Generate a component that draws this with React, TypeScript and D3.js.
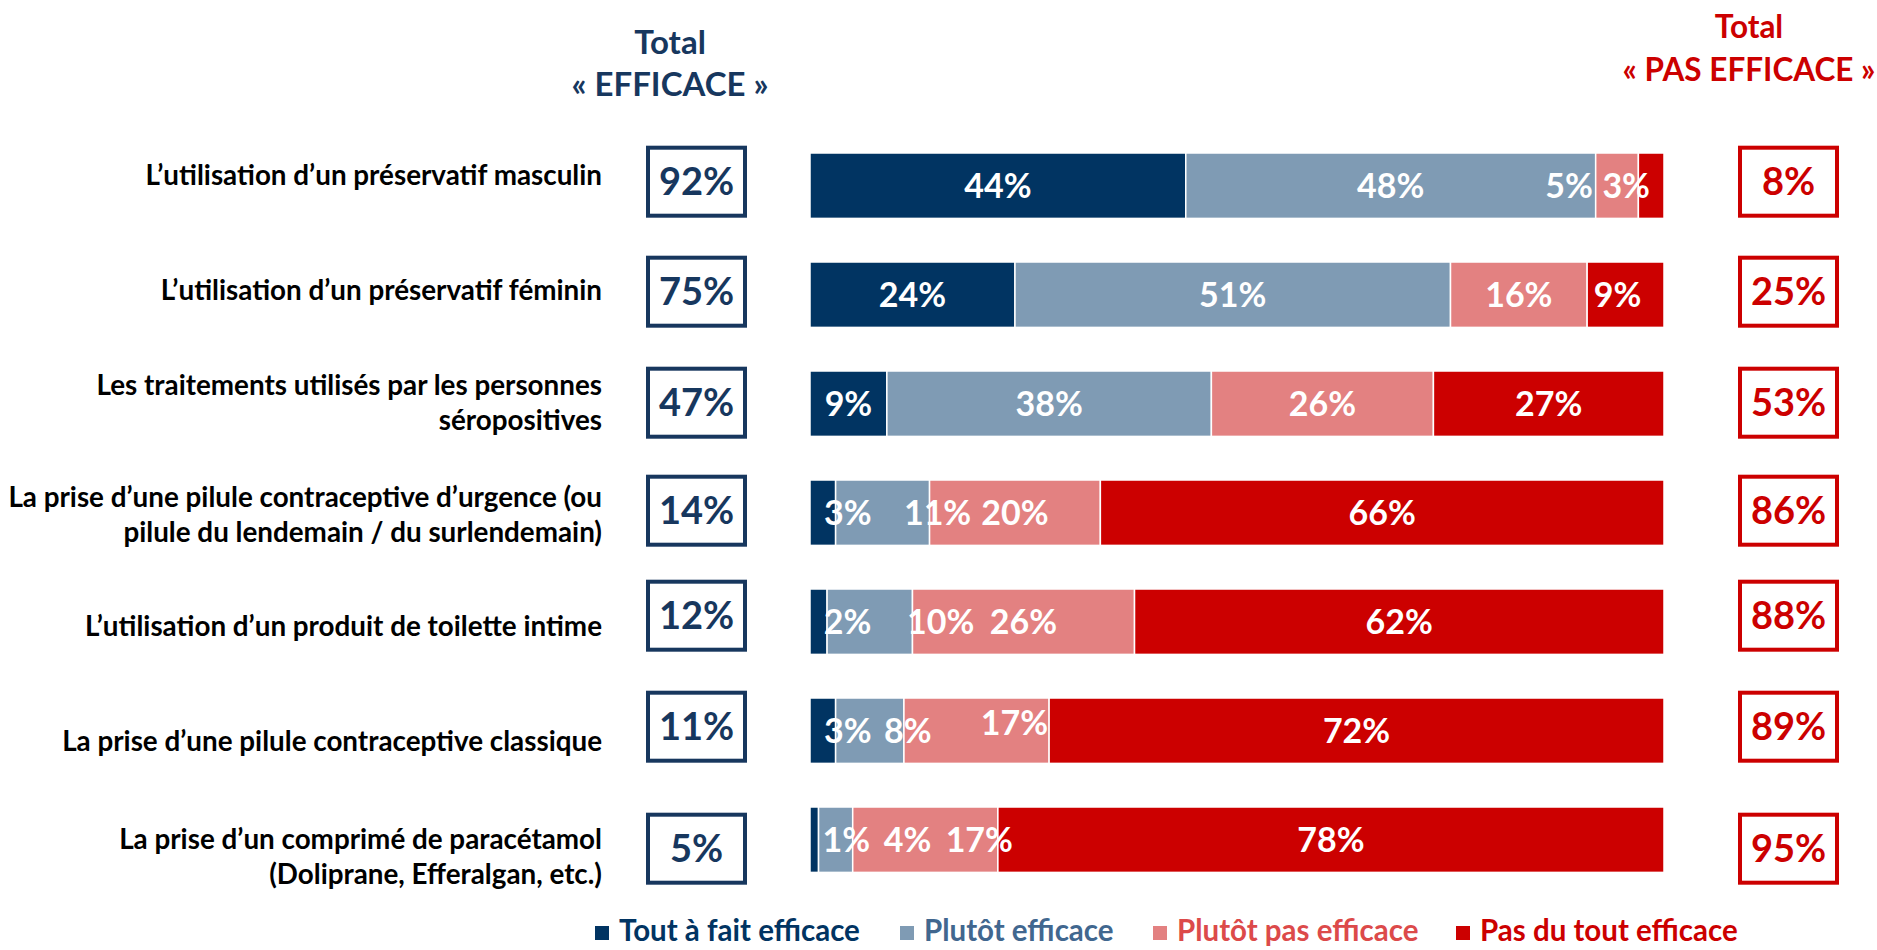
import React from "react";
import * as d3 from "d3";

// ---------- DATA ----------
const categories: string[][] = [
  ["L’utilisation d’un préservatif masculin"],
  ["L’utilisation d’un préservatif féminin"],
  ["Les traitements utilisés par les personnes", "séropositives"],
  ["La prise d’une pilule contraceptive d’urgence (ou", "pilule du lendemain / du surlendemain)"],
  ["L’utilisation d’un produit de toilette intime"],
  ["La prise d’une pilule contraceptive classique"],
  ["La prise d’un comprimé de paracétamol", "(Doliprane, Efferalgan, etc.)"],
];
const seriesNames = ["Tout à fait efficace", "Plutôt efficace", "Plutôt pas efficace", "Pas du tout efficace"];
const toutAFait = [44, 24, 9, 3, 2, 3, 1];
const plutot = [48, 51, 38, 11, 10, 8, 4];
const plutotPas = [5, 16, 26, 20, 26, 17, 17];
const pasDuTout = [3, 9, 27, 66, 62, 72, 78];
const totalEfficace = [92, 75, 47, 14, 12, 11, 5];
const totalPasEfficace = [8, 25, 53, 86, 88, 89, 95];
const headerLeft = ["Total", "« EFFICACE »"];
const headerRight = ["Total", "« PAS EFFICACE »"];

// ---------- STYLE / LAYOUT ----------
const FONT = "Lato, 'Open Sans', sans-serif";
const barColors = ["#013462", "#7f9bb4", "#e38181", "#cc0000"];
const legendTextColors = ["#013462", "#41678f", "#dc4a4a", "#cc0000"];
const NAVY = "#17375e";
const RED = "#cc0000";
// label nudges (px) for the segment labels, [row][segment] -> [dx, dy]
const segNudge: [number, number][][] = [
  [[0, 0], [0, 0], [-48, 0], [-25, 0]],
  [[0, 0], [0, 0], [0, 0], [-8, 0]],
  [[0, 0], [0, 0], [0, 0], [0, 0]],
  [[25, 0], [55, 0], [0, 0], [0, 0]],
  [[29, 0], [71, 0], [0, 0], [0, 0]],
  [[25, 0], [38, 0], [38, -8], [0, 0]],
  [[32, 0], [72, 0], [54, 0], [0, 0]],
];
const labelDy = [-10, -4, -1, 2, 5, 11, 17];
const boxDy = [-4, -3, -1, -2, -6, -4, 9];

export default function App() {
  const W = 1877, H = 950;
  const rows = categories.map((c, i) => ({
    key: String(i),
    [seriesNames[0]]: toutAFait[i],
    [seriesNames[1]]: plutot[i],
    [seriesNames[2]]: plutotPas[i],
    [seriesNames[3]]: pasDuTout[i],
  }));
  const stacked = d3.stack<any>().keys(seriesNames)(rows);

  const x = d3.scaleLinear().domain([0, 100]).range([810, 1664]);
  const y = d3.scaleBand<string>()
    .domain(rows.map((r) => r.key))
    .range([153, 153 + 6.6 * 109])
    .paddingInner(0.4)
    .paddingOuter(0);
  const bw = y.bandwidth();

  const lineH = 35;

  return (
    <svg width={W} height={H} style={{ position: "absolute", left: 0, top: 0, background: "#fff" }} fontFamily={FONT} fontWeight="bold">
      {/* headers */}
      {headerLeft.map((t, i) => (
        <text key={"hl" + i} x={670} y={54 + i * 42} textAnchor="middle" fontSize={33} fill={NAVY}>{t}</text>
      ))}
      {headerRight.map((t, i) => (
        <text key={"hr" + i} x={1749} y={38 + i * 43} textAnchor="middle" fontSize={31.5} fill={RED}>{t}</text>
      ))}

      {/* bars */}
      {stacked.map((s, si) => (
        <g key={s.key}>
          {s.map((d, ri) => (
            <rect key={ri} x={x(d[0])} y={y(String(ri))} width={x(d[1]) - x(d[0])} height={bw}
              fill={barColors[si]} stroke="#fff" strokeWidth={1.5} />
          ))}
        </g>
      ))}
      {/* segment labels */}
      {stacked.map((s, si) => (
        <g key={"l" + s.key}>
          {s.map((d, ri) => {
            const v = d[1] - d[0];
            const [dx, dy] = segNudge[ri][si];
            return (
              <text key={ri} x={(x(d[0]) + x(d[1])) / 2 + dx} y={(y(String(ri)) as number) + bw / 2 + dy}
                dy="0.35em" textAnchor="middle" fontSize={34} fill="#fff">{v + "%"}</text>
            );
          })}
        </g>
      ))}

      {/* category labels */}
      {categories.map((lines, i) => {
        const cy = (y(String(i)) as number) + bw / 2 + labelDy[i];
        const start = cy - ((lines.length - 1) * lineH) / 2;
        return (
          <text key={"c" + i} textAnchor="end" fontSize={27.8} fill="#000">
            {lines.map((ln, j) => (
              <tspan key={j} x={602} y={start + j * lineH} dy="0.35em">{ln}</tspan>
            ))}
          </text>
        );
      })}

      {/* total boxes */}
      {categories.map((_, i) => {
        const cy = (y(String(i)) as number) + bw / 2 + boxDy[i];
        return (
          <g key={"b" + i}>
            <rect x={648} y={cy - 34} width={97} height={68} fill="#fff" stroke={NAVY} strokeWidth={4} />
            <text x={696.5} y={cy} dy="0.36em" textAnchor="middle" fontSize={38} fill={NAVY}>{totalEfficace[i] + "%"}</text>
            <rect x={1740} y={cy - 34} width={97} height={68} fill="#fff" stroke={RED} strokeWidth={4} />
            <text x={1788.5} y={cy} dy="0.36em" textAnchor="middle" fontSize={38} fill={RED}>{totalPasEfficace[i] + "%"}</text>
          </g>
        );
      })}

      {/* legend */}
      {seriesNames.map((n, i) => {
        const lx = [595, 900, 1153, 1456][i];
        return (
          <g key={"lg" + i}>
            <rect x={lx} y={926} width={14} height={14} fill={barColors[i]} />
            <text x={lx + 24} y={941} fontSize={29.5} fill={legendTextColors[i]}>{n}</text>
          </g>
        );
      })}
    </svg>
  );
}
